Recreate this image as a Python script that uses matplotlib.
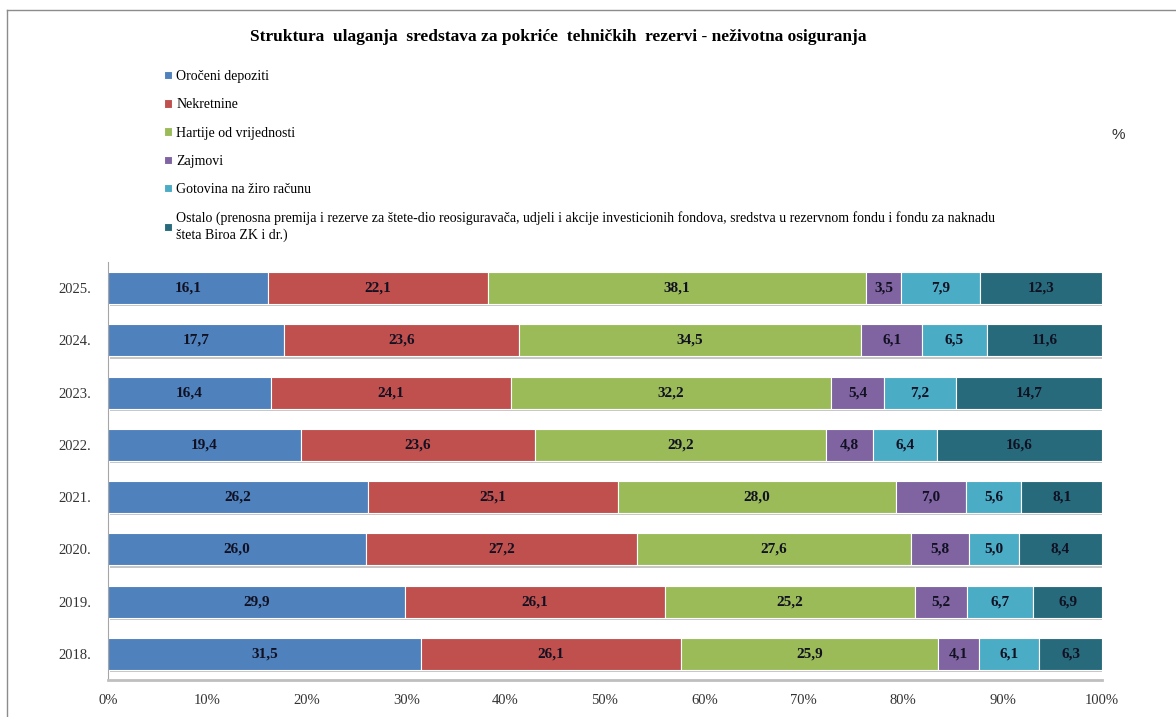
import matplotlib
matplotlib.use('Agg')
import matplotlib.pyplot as plt
import matplotlib.patheffects as pe
from matplotlib.lines import Line2D
import numpy as np

plt.rcParams['font.family'] = ['Liberation Serif', 'DejaVu Serif']

years = ['2018.', '2019.', '2020.', '2021.', '2022.', '2023.', '2024.', '2025.']
series_names = [
    'Oročeni depoziti',
    'Nekretnine',
    'Hartije od vrijednosti',
    'Zajmovi',
    'Gotovina na žiro računu',
    'Ostalo (prenosna premija i rezerve za štete-dio reosiguravača, udjeli i akcije '
    'investicionih fondova, sredstva u rezervnom fondu i fondu za naknadu\n'
    'šteta Biroa ZK i dr.)',
]
orocen = [31.5, 29.9, 26.0, 26.2, 19.4, 16.4, 17.7, 16.1]
nekretnine = [26.1, 26.1, 27.2, 25.1, 23.6, 24.1, 23.6, 22.1]
hartije = [25.9, 25.2, 27.6, 28.0, 29.2, 32.2, 34.5, 38.1]
zajmovi = [4.1, 5.2, 5.8, 7.0, 4.8, 5.4, 6.1, 3.5]
gotovina = [6.1, 6.7, 5.0, 5.6, 6.4, 7.2, 6.5, 7.9]
ostalo = [6.3, 6.9, 8.4, 8.1, 16.6, 14.7, 11.6, 12.3]

colors = ['#4F81BD', '#C0504D', '#9BBB59', '#8064A2', '#4BACC6', '#276A7C']

W, H = 1176, 717
fig = plt.figure(figsize=(W / 100, H / 100), dpi=100)
ax = fig.add_axes([108 / W, 1 - 680 / H, (1102 - 108) / W, (680 - 262) / H])

data = np.array([orocen, nekretnine, hartije, zajmovi, gotovina, ostalo])
totals = data.sum(axis=0)
shares = data / totals * 100
y = np.arange(len(years))
left = np.zeros(len(years))
shadow = [pe.SimplePatchShadow(offset=(1.2, -1.6), shadow_rgbFace='#808080', alpha=0.45), pe.Normal()]
for i, name in enumerate(series_names):
    bars = ax.barh(y, shares[i], left=left, height=0.61, color=colors[i],
                   edgecolor='white', linewidth=0.8, label=name)
    for b in bars:
        b.set_path_effects(shadow)
    for j in range(len(years)):
        ax.text(left[j] + shares[i][j] / 2, y[j], ('%.1f' % data[i][j]).replace('.', ','),
                ha='center', va='center', fontsize=11, fontweight='bold', color='#111122')
    left += shares[i]

ax.set_xlim(0, 100)
ax.set_ylim(-0.5, len(years) - 0.5)
ax.set_yticks(y)
ax.set_yticklabels(years, fontsize=10.5, color='#333333')
ax.set_xticks(np.arange(0, 101, 10))
ax.set_xticklabels(['%d%%' % v for v in range(0, 101, 10)], fontsize=10.5, color='#333333')
ax.tick_params(length=0)
ax.tick_params(axis='y', pad=12)
ax.tick_params(axis='x', pad=10)
for s in ['top', 'right']:
    ax.spines[s].set_visible(False)
ax.spines['left'].set_color('#A6A6A6')
ax.spines['left'].set_linewidth(0.8)
ax.spines['bottom'].set_color('#BFBFBF')
ax.spines['bottom'].set_linewidth(2)

handles, labels = ax.get_legend_handles_labels()
leg = fig.legend(handles, labels, loc='upper left', bbox_to_anchor=(164 / W, 1 - 70 / H),
                 frameon=False, fontsize=10, handlelength=0.55, handleheight=0.55,
                 handletextpad=0.35, labelspacing=1.1, borderpad=0, borderaxespad=0)
for h in leg.legend_handles:
    h.set_path_effects([])
for t in leg.get_texts():
    t.set_linespacing(1.35)

fig.text(558 / W, 1 - 37 / H,
         'Struktura  ulaganja  sredstava za pokriće  tehničkih  rezervi - neživotna osiguranja',
         ha='center', va='center', fontsize=12.5, fontweight='bold')
fig.text(1118 / W, 1 - 135 / H, '%', ha='center', va='center', fontsize=11,
         family='Liberation Sans', color='#333333')

fig.add_artist(Line2D([7 / W, 7 / W], [0, 1 - 10 / H], transform=fig.transFigure,
                      color='#8C8C8C', linewidth=1))
fig.add_artist(Line2D([7 / W, 1], [1 - 10 / H, 1 - 10 / H], transform=fig.transFigure,
                      color='#8C8C8C', linewidth=1))

fig.savefig('out.png', dpi=100)
